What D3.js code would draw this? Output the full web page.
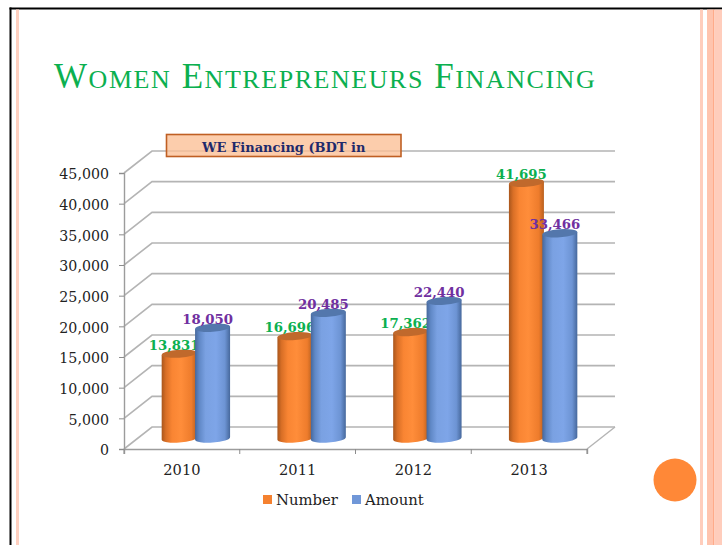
<!DOCTYPE html>
<html><head><meta charset="utf-8">
<script src="https://cdn.jsdelivr.net/npm/d3@7"></script>
<style>html,body{margin:0;padding:0;background:#fff}svg{display:block}text{font-family:"DejaVu Serif",serif}</style>
</head><body><div id="c"></div>
<script>
const categories=["2010","2011","2012","2013"];
const numberValues=[13831,16696,17362,41695];
const amountValues=[18050,20485,22440,33466];
const yTicks=[0,5000,10000,15000,20000,25000,30000,35000,40000,45000];
const seriesNames=["Number","Amount"];
const titleWords=["Women","Entrepreneurs","Financing"];
const chartTitle="WE Financing (BDT in";

const W=722,H=545;
const svg=d3.select("#c").append("svg").attr("width",W).attr("height",H);
const defs=svg.append("defs");
function grad(id,stops){const g=defs.append("linearGradient").attr("id",id);
 stops.forEach(s=>g.append("stop").attr("offset",s[0]).attr("stop-color",s[1]));}
grad("gO",[[0,"#a9561c"],[.12,"#d96f26"],[.3,"#f98533"],[.55,"#ff8d3a"],[.85,"#ee7c2c"],[1,"#b9601f"]]);
grad("gB",[[0,"#46689c"],[.12,"#6088c6"],[.3,"#7aa1e2"],[.6,"#7ea5e8"],[.85,"#6d94d4"],[1,"#46689c"]]);

// slide frame
svg.append("rect").attr("x",9.5).attr("y",7.5).attr("width",W).attr("height",2).attr("fill","#000");
svg.append("rect").attr("x",9.5).attr("y",7.5).attr("width",2).attr("height",H).attr("fill","#000");
svg.append("rect").attr("x",16).attr("y",9.5).attr("width",3).attr("height",H).attr("fill","#ffd0c0");
svg.append("rect").attr("x",700).attr("y",9.5).attr("width",3).attr("height",H).attr("fill","#ffcdbc");
svg.append("rect").attr("x",707).attr("y",9.5).attr("width",6).attr("height",H).attr("fill","#ffc4ae");
svg.append("rect").attr("x",713).attr("y",9.5).attr("width",1.5).attr("height",H).attr("fill","#ffab8a");
svg.append("rect").attr("x",714.5).attr("y",9.5).attr("width",7.5).attr("height",H).attr("fill","#ffcdbc");
svg.append("circle").attr("cx",675).attr("cy",480).attr("r",21.5).attr("fill","#ff8837");

// title: real small capitals, built from the words
const tt=svg.append("text").attr("x",54).attr("y",88).attr("fill","#0bb050")
 .style("font-family","'Liberation Serif',serif").style("letter-spacing","1.55px");
titleWords.forEach((w,i)=>{
 tt.append("tspan").style("font-size","35px").text((i?" ":"")+w[0]);
 tt.append("tspan").style("font-size","26px").text(w.slice(1).toUpperCase());
});

// chart
const plot={l:124,r:587,t:173,b:449},dx=28,dy=-22;
const x=d3.scaleBand().domain(categories).range([plot.l,plot.r]);
const y=d3.scaleLinear().domain([0,45000]).range([plot.b,plot.t]);
const grey="#b4b4b4";
const g=svg.append("g");
yTicks.forEach(t=>{
 g.append("path").attr("d",d3.line()([[plot.l,y(t)],[plot.l+dx,y(t)+dy],[plot.r+dx,y(t)+dy]]))
  .attr("fill","none").attr("stroke",grey).attr("stroke-width",1.6);
});
g.append("path").attr("d",d3.line()([[plot.r,plot.b],[plot.r+dx,plot.b+dy]])).attr("stroke",grey).attr("stroke-width",1.4);

const ya=d3.axisLeft(y).tickValues(yTicks).tickFormat(d3.format(",")).tickSize(5).tickPadding(10);
const ax=g.append("g").attr("transform",`translate(${plot.l},0)`).call(ya);
ax.selectAll("text").attr("dy","0.42em");
const xa=d3.axisBottom(x).tickSize(5).tickPadding(11);
const bx=g.append("g").attr("transform",`translate(0,${plot.b})`).call(xa);
// band-edge ticks as in the original
bx.selectAll(".tick line").remove();
x.domain().concat(["end"]).forEach((c,i)=>{
 const px=c==="end"?plot.r:x(c);
 bx.append("line").attr("x1",px).attr("x2",px).attr("y1",0).attr("y2",5).attr("stroke","#8c8c8c");
});
[ax,bx].forEach(a=>{a.selectAll("path.domain").attr("stroke","#9c9c9c").attr("stroke-width",1.4);
 a.selectAll("text").style("font-family","'DejaVu Serif',serif").style("font-size","14.2px").attr("fill","#222");});
bx.selectAll("text").style("font-size","14.6px");
ax.selectAll(".tick line").attr("stroke","#8c8c8c");

// cylinders
const barW=35, ry=4, tilt=-4;
const baseShift=[14,-10.5];
function cyl(px,v,gradId,topCol){
 const cx=px+baseShift[0],yb=y(0)+baseShift[1],yt=y(v)+baseShift[1];
 const rx=barW/2;
 const lift=rx*Math.tan(-tilt*Math.PI/180);
 const a=g.append("g");
 a.append("path").attr("d",`M${cx-rx},${yt+lift} L${cx-rx},${yb+lift} A${rx},${ry} ${tilt} 0 0 ${cx+rx},${yb-lift} L${cx+rx},${yt-lift} Z`)
  .attr("fill",`url(#${gradId})`);
 a.append("ellipse").attr("cx",cx).attr("cy",yt).attr("rx",rx).attr("ry",ry)
  .attr("transform",`rotate(${tilt} ${cx} ${yt})`).attr("fill",topCol);
}
function lab(px,v,col){
 g.append("text").attr("x",px+baseShift[0]-5).attr("y",y(v)+baseShift[1]-4).attr("text-anchor","middle")
  .attr("fill",col).style("font-size","13.3px").style("font-weight","bold").text(d3.format(",")(v));
}
categories.forEach((c,i)=>{
 const mid=x(c)+x.bandwidth()/2;
 cyl(mid-16.7,numberValues[i],"gO","#c0692c");
 lab(mid-16.7,numberValues[i],"#0bb050");
 cyl(mid+16.7,amountValues[i],"gB","#5377ac");
 lab(mid+16.7,amountValues[i],"#7030a0");
});

// chart title box
svg.append("rect").attr("x",166.5).attr("y",134.5).attr("width",234.5).attr("height",22)
 .attr("fill","#fbbf95").attr("fill-opacity",.78).attr("stroke","#bf5f23").attr("stroke-width",1.6);
svg.append("text").attr("x",202).attr("y",152).attr("fill","#1f2a6b").style("font-size","13px").style("font-weight","bold").text(chartTitle);

// legend
const lg=svg.append("g");
[[263,"#f5812f",276],[352,"#7097d8",365]].forEach((d,i)=>{
 lg.append("rect").attr("x",d[0]).attr("y",495).attr("width",9).attr("height",9).attr("fill",d[1]);
 lg.append("text").attr("x",d[2]).attr("y",505).attr("fill","#222").style("font-size","14.8px").text(seriesNames[i]);
});
</script></body></html>
